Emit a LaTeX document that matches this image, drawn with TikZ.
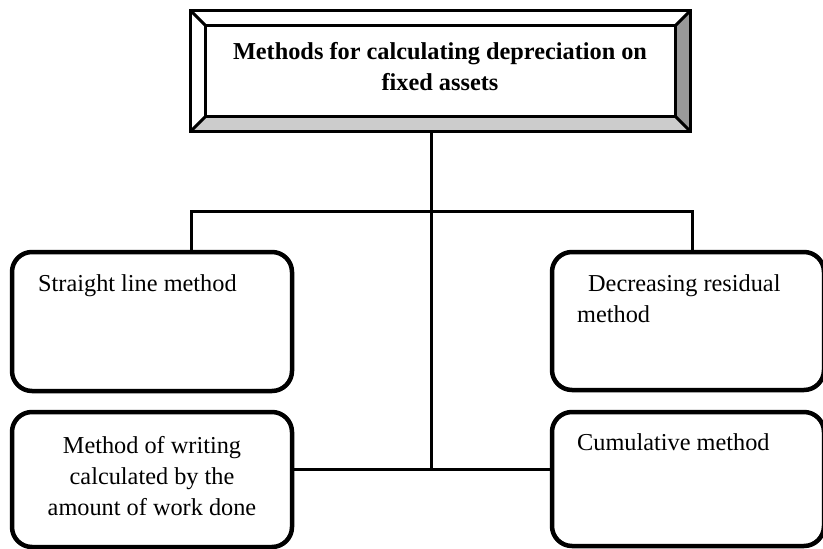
\documentclass[tikz,border=0pt]{standalone}
\usepackage{fontspec}
\setmainfont{Liberation Serif}
\usetikzlibrary{calc}
\begin{document}
\begin{tikzpicture}[x=1pt,y=-1pt,
  mbox/.style={draw, line width=4.5pt, rounded corners=20pt, inner sep=0pt, fill=white},
  lbl/.style={inner sep=0pt, font=\fontsize{24.3}{31}\selectfont},
  conn/.style={line width=3pt},
  bevel/.style={line width=3pt, line join=miter}]
\useasboundingbox (0,0) rectangle (823,549);
\fill[white] (0,0) rectangle (823,549);

% title box (bevelled frame)
\node[minimum width=499pt, minimum height=120pt, inner sep=0pt] (top) at (440.5,71) {};
\coordinate (i1) at ($(top.north west)+(15,15)$);
\coordinate (i2) at ($(top.north east)+(-15,15)$);
\coordinate (i3) at ($(top.south east)+(-15,-15)$);
\coordinate (i4) at ($(top.south west)+(15,-15)$);
\fill[white] (top.north west) -- (top.north east) -- (i2) -- (i1) -- cycle;
\fill[white] (top.north west) -- (i1) -- (i4) -- (top.south west) -- cycle;
\fill[black!40] (top.north east) -- (top.south east) -- (i3) -- (i2) -- cycle;
\fill[black!20] (top.south west) -- (i4) -- (i3) -- (top.south east) -- cycle;
\draw[bevel] (top.north west) rectangle (top.south east);
\draw[bevel] (i1) rectangle (i3);
\draw[bevel] (top.north west) -- (i1) (top.north east) -- (i2)
             (top.south east) -- (i3) (top.south west) -- (i4);
\node[lbl, font=\fontsize{24.3}{31}\selectfont\bfseries, align=center, anchor=base] (title) at (440,90)
  {Methods for calculating depreciation on\\fixed assets};

% method boxes
\node[mbox, minimum width=280pt, minimum height=139pt] (ul) at (152,321.5) {};
\node[mbox, minimum width=272pt, minimum height=138pt] (ur) at (688,321) {};
\node[mbox, minimum width=280pt, minimum height=135pt] (ll) at (152,479.5) {};
\node[mbox, minimum width=272pt, minimum height=134pt] (lr) at (688,479) {};

\node[lbl, anchor=base west] (tul) at (38,291) {Straight line method};
\node[lbl, anchor=base west, align=left] (tur) at (577,322) {\hspace{11pt}Decreasing residual\\method};
\node[lbl, anchor=base, align=center] (tll) at (152,515) {Method of writing\\calculated by the\\amount of work done};
\node[lbl, anchor=base west] (tlr) at (577,450) {Cumulative method};

% connectors
\coordinate (hl) at (191,211);
\coordinate (hr) at (692,211);
\coordinate (j) at (431,469);
\draw[conn] (hl |- ul.north) -- (hl) -- (hr) -- (hr |- ur.north);
\draw[conn] (top.south -| j) -- (j);
\draw[conn] (j -| ll.east) -- (j -| lr.west);
\end{tikzpicture}
\end{document}
